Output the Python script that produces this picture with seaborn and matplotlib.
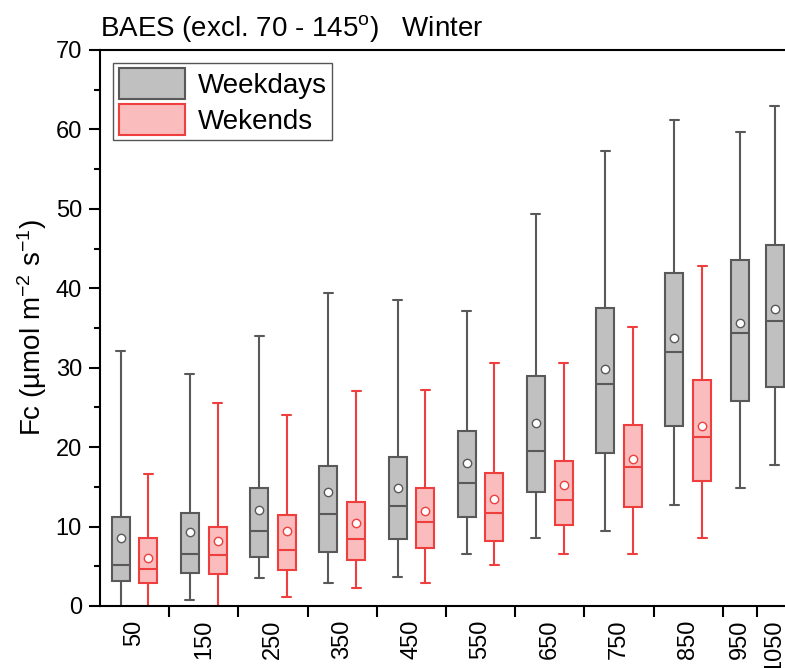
import numpy as np
import pandas as pd
import matplotlib
matplotlib.use("Agg")
import matplotlib.pyplot as plt
from matplotlib.patches import Patch
from matplotlib.ticker import MultipleLocator
import seaborn as sns

# Bin centres shown on the x axis and the bin edges between them
bins = [50, 150, 250, 350, 450, 550, 650, 750, 850, 950, 1050]
bin_edges = [100, 200, 300, 400, 500, 600, 700, 800, 900, 1000]

# Weekday box statistics, Fc (µmol m-2 s-1)
wd_low = [-2.0, 0.8, 3.5, 2.9, 3.6, 6.5, 8.6, 9.5, 12.7, 14.9, 17.8]
wd_q1 = [3.1, 4.2, 6.2, 6.8, 8.4, 11.2, 14.35, 19.25, 22.65, 25.8, 27.55]
wd_med = [5.2, 6.6, 9.45, 11.6, 12.65, 15.5, 19.5, 27.95, 32.0, 34.35, 35.9]
wd_q3 = [11.2, 11.75, 14.9, 17.65, 18.7, 22.05, 28.9, 37.55, 41.95, 43.6, 45.45]
wd_high = [32.1, 29.25, 33.95, 39.4, 38.55, 37.2, 49.4, 57.3, 61.2, 59.7, 62.9]
wd_mean = [8.6, 9.35, 12.1, 14.4, 14.9, 18.05, 23.1, 29.8, 33.7, 35.65, 37.45]

# Weekend box statistics (first nine bins only)
we_low = [-2.0, -2.0, 1.1, 2.3, 2.85, 5.15, 6.55, 6.5, 8.6]
we_q1 = [2.95, 4.05, 4.55, 5.8, 7.35, 8.2, 10.15, 12.45, 15.7]
we_med = [4.65, 6.45, 7.05, 8.4, 10.6, 11.75, 13.3, 17.55, 21.3]
we_q3 = [8.6, 10.0, 11.45, 13.05, 14.9, 16.8, 18.25, 22.75, 28.4]
we_high = [16.6, 25.5, 24.05, 27.1, 27.25, 30.6, 30.65, 35.1, 42.85]
we_mean = [6.1, 8.15, 9.45, 10.5, 11.95, 13.45, 15.2, 18.5, 22.7]

WD_FILL, WD_LINE = "#C0C0C0", "#595959"
WE_FILL, WE_LINE = "#FABCBC", "#EE3E3E"
BOX_W = 26        # box width in axis units
PAIR_OFFSET = 20  # shift of paired boxes from the bin centre


def axis_pos(v):
    """Bins above 900 are drawn at half spacing."""
    v = np.asarray(v, dtype=float)
    return np.where(v <= 900, v, 900 + (v - 900) / 2)


def five_point_frame(pos, *stats):
    rows = []
    for p, *vals in zip(pos, *stats):
        rows += [(p, v) for v in vals]
    return pd.DataFrame(rows, columns=["pos", "Fc"])


n_pair = len(we_med)
centres = axis_pos(bins)
wd_pos = centres.copy()
wd_pos[:n_pair] -= PAIR_OFFSET
we_pos = centres[:n_pair] + PAIR_OFFSET

wd_df = five_point_frame(wd_pos, wd_low, wd_q1, wd_med, wd_q3, wd_high)
we_df = five_point_frame(we_pos, we_low, we_q1, we_med, we_q3, we_high)

sns.set_style("ticks")
plt.rcParams["font.family"] = ["Liberation Sans", "DejaVu Sans"]
plt.rcParams["mathtext.fontset"] = "custom"
plt.rcParams["mathtext.rm"] = "Liberation Sans"
plt.rcParams["mathtext.it"] = "Liberation Sans:italic"
plt.rcParams["axes.linewidth"] = 1.5
for key in ["text.color", "axes.labelcolor", "axes.edgecolor",
            "xtick.color", "ytick.color"]:
    plt.rcParams[key] = "black"

fig = plt.figure(figsize=(7.85, 6.68), dpi=100)
ax = fig.add_axes([100 / 785, 62 / 668, 692 / 785, 556 / 668])


def min_gap(pos):
    return np.diff(np.unique(pos)).min()


for df, pos, fill, line in [(wd_df, wd_pos, WD_FILL, WD_LINE),
                            (we_df, we_pos, WE_FILL, WE_LINE)]:
    sns.boxplot(data=df, x="pos", y="Fc", orient="x", native_scale=True,
                width=BOX_W / min_gap(pos), color=fill, linecolor=line,
                linewidth=1.5, whis=(0, 100), showfliers=False,
                saturation=1, ax=ax)

for pos, mean, line in [(wd_pos, wd_mean, WD_LINE), (we_pos, we_mean, WE_LINE)]:
    sns.scatterplot(x=pos, y=mean, marker="o", s=36, color="white",
                    edgecolor=line, linewidth=1.0, zorder=5, ax=ax)

# x axis: tick marks on bin edges, labels on bin centres
ax.set_xlim(0, 1000)
ax.set_xticks(axis_pos(bin_edges))
ax.set_xticklabels([])
ax.set_xticks(centres, labels=[str(b) for b in bins], minor=True)
ax.tick_params(axis="x", which="major", direction="out", length=8, width=1.5)
ax.tick_params(axis="x", which="minor", length=0, pad=10, labelsize=17,
               labelrotation=90)

# y axis
ax.set_ylim(0, 70)
ax.yaxis.set_major_locator(MultipleLocator(10))
ax.yaxis.set_minor_locator(MultipleLocator(5))
ax.tick_params(axis="y", which="major", direction="out", length=8, width=1.5,
               labelsize=17, pad=5)
ax.tick_params(axis="y", which="minor", direction="out", length=4, width=1.5)

ax.set_xlabel("")
ax.set_ylabel("Fc (µmol m$^{-2}$ s$^{-1}$)", fontsize=20, labelpad=5)
ax.set_title("BAES (excl. 70 - 145$^{\\rm o}$)   Winter", loc="left",
             fontsize=20, pad=10)

for side in ["top", "left", "bottom", "right"]:
    ax.spines[side].set_visible(True)
    ax.spines[side].set_linewidth(1.5)

handles = [Patch(facecolor=WD_FILL, edgecolor=WD_LINE, linewidth=1.5, label="Weekdays"),
           Patch(facecolor=WE_FILL, edgecolor=WE_LINE, linewidth=1.5, label="Wekends")]
leg = ax.legend(handles=handles, loc="upper left", bbox_to_anchor=(0.019, 0.977),
                borderaxespad=0, frameon=True, fancybox=False, framealpha=1,
                edgecolor="#555555", fontsize=20, handlelength=2.4,
                handleheight=1.3, handletextpad=0.45, labelspacing=0.2,
                borderpad=0.2)
leg.get_frame().set_linewidth(1.0)

fig.savefig("out.png", dpi=100)
